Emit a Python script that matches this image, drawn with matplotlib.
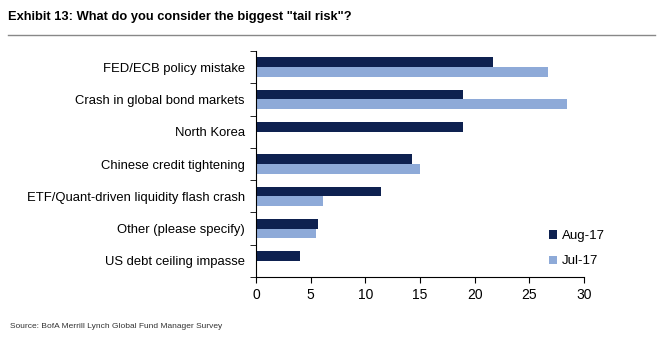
import numpy as np
import matplotlib
matplotlib.use('Agg')
import matplotlib.pyplot as plt
from matplotlib.lines import Line2D

plt.rcParams['font.family'] = ['Liberation Sans', 'DejaVu Sans']

categories = ['FED/ECB policy mistake', 'Crash in global bond markets', 'North Korea',
              'Chinese credit tightening', 'ETF/Quant-driven liquidity flash crash',
              'Other (please specify)', 'US debt ceiling impasse']
aug17 = [21.7, 18.9, 18.9, 14.3, 11.4, 5.7, 4.0]
jul17 = [26.7, 28.4, 0.0, 15.0, 6.1, 5.5, 0.0]
xticks = [0, 5, 10, 15, 20, 25, 30]

dark = '#0e2150'
light = '#8eaad8'

fig = plt.figure(figsize=(6.66, 3.56), dpi=100)
ax = fig.add_axes([0.3844, 0.2219, 0.4925, 0.6348])

y = np.arange(len(categories))
h = 0.3
ax.barh(y - h / 2, aug17, height=h, color=dark, label='Aug-17')
ax.barh(y + h / 2, jul17, height=h, color=light, label='Jul-17')

ax.set_ylim(len(categories) - 0.5, -0.5)
ax.set_xlim(0, 30)
ax.set_xticks(xticks)
ax.set_yticks(y)
ax.set_yticklabels(categories, fontsize=9.4)
ax.set_yticks(np.arange(-0.5, len(categories)), minor=True)
ax.tick_params(axis='y', which='major', length=0, pad=8)
ax.tick_params(axis='y', which='minor', length=4, direction='out', color='black')
ax.tick_params(axis='x', length=4, direction='out', labelsize=10, pad=4)
for s in ['top', 'right']:
    ax.spines[s].set_visible(False)
for s in ['left', 'bottom']:
    ax.spines[s].set_color('black')
    ax.spines[s].set_linewidth(0.8)

leg = ax.legend(loc='lower right', bbox_to_anchor=(1.10, -0.01), frameon=False,
                fontsize=9.5, handlelength=0.6, handleheight=0.6,
                handletextpad=0.4, labelspacing=1.0)

fig.text(0.012, 0.952, 'Exhibit 13: What do you consider the biggest "tail risk"?',
         fontsize=9.3, fontweight='bold', va='center', ha='left')
fig.add_artist(Line2D([0.012, 0.983], [0.902, 0.902], color='#888888', linewidth=1.0))
fig.text(0.015, 0.082, 'Source: BofA Merrill Lynch Global Fund Manager Survey',
         fontsize=6, color='#333333', va='center', ha='left')

fig.savefig('out.png', dpi=100)
